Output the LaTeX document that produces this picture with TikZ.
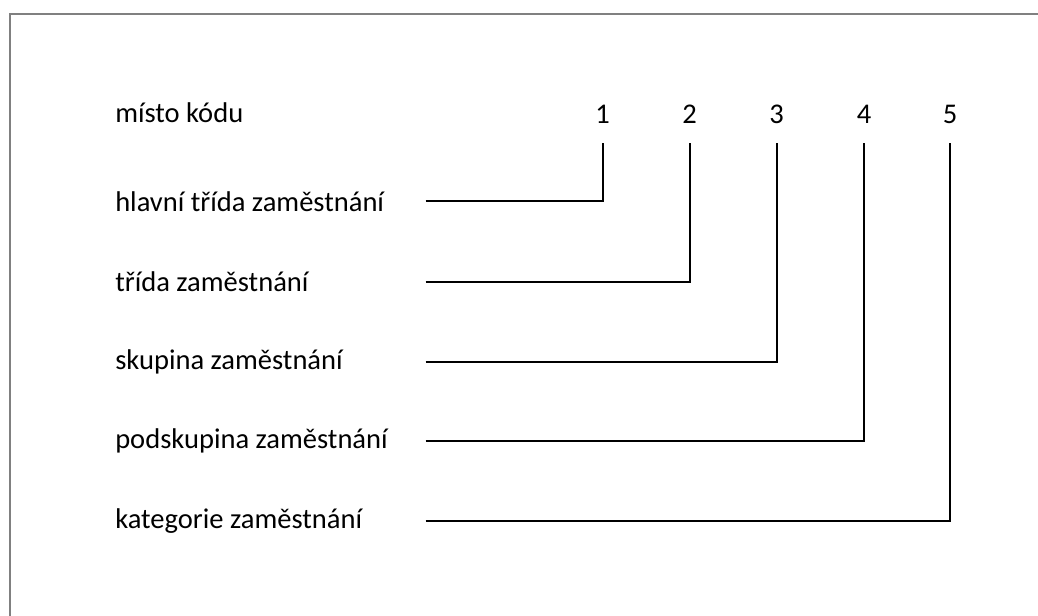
\documentclass[tikz,border=0pt]{standalone}
\usepackage{fontspec}
\setmainfont{Carlito}
\usepackage{tikz}
\usetikzlibrary{positioning}

\begin{document}
\begin{tikzpicture}[x=0.75pt,y=-0.75pt,
    every node/.style={font=\fontsize{21.4}{25}\selectfont, inner sep=0pt},
    lbl/.style={anchor=west},
    num/.style={minimum height=43.5pt},
    conn/.style={line width=1.5pt, black}]
            \useasboundingbox (0,0) rectangle (1038,616);
            \draw[line width=1.5pt, gray] (9.5,616) -- (9.5,14.2) -- (1038,14.2);
            \node[lbl] (head) at (115,113) {místo kódu};
            \node[num] (num1) at (602.7,114) {1};
            \node[num] (num2) at (689.5,114) {2};
            \node[num] (num3) at (776.7,114) {3};
            \node[num] (num4) at (864,114) {4};
            \node[num] (num5) at (950,114) {5};
            \node[lbl] (lbl1) at (115,201.5) {hlavní třída zaměstnání};
            \node[lbl] (lbl2) at (115,282) {třída zaměstnání};
            \node[lbl] (lbl3) at (115,362) {skupina zaměstnání};
            \node[lbl] (lbl4) at (115,441.3) {podskupina zaměstnání};
            \node[lbl] (lbl5) at (115,521) {kategorie zaměstnání};
            \coordinate (c1) at (425.7,201.5);
            \coordinate (c2) at (425.7,282);
            \coordinate (c3) at (425.7,362);
            \coordinate (c4) at (425.7,441.3);
            \coordinate (c5) at (425.7,521);
            \draw[conn] (c1) -| (num1.south);
            \draw[conn] (c2) -| (num2.south);
            \draw[conn] (c3) -| (num3.south);
            \draw[conn] (c4) -| (num4.south);
            \draw[conn] (c5) -| (num5.south);
        \end{tikzpicture}
\end{document}
